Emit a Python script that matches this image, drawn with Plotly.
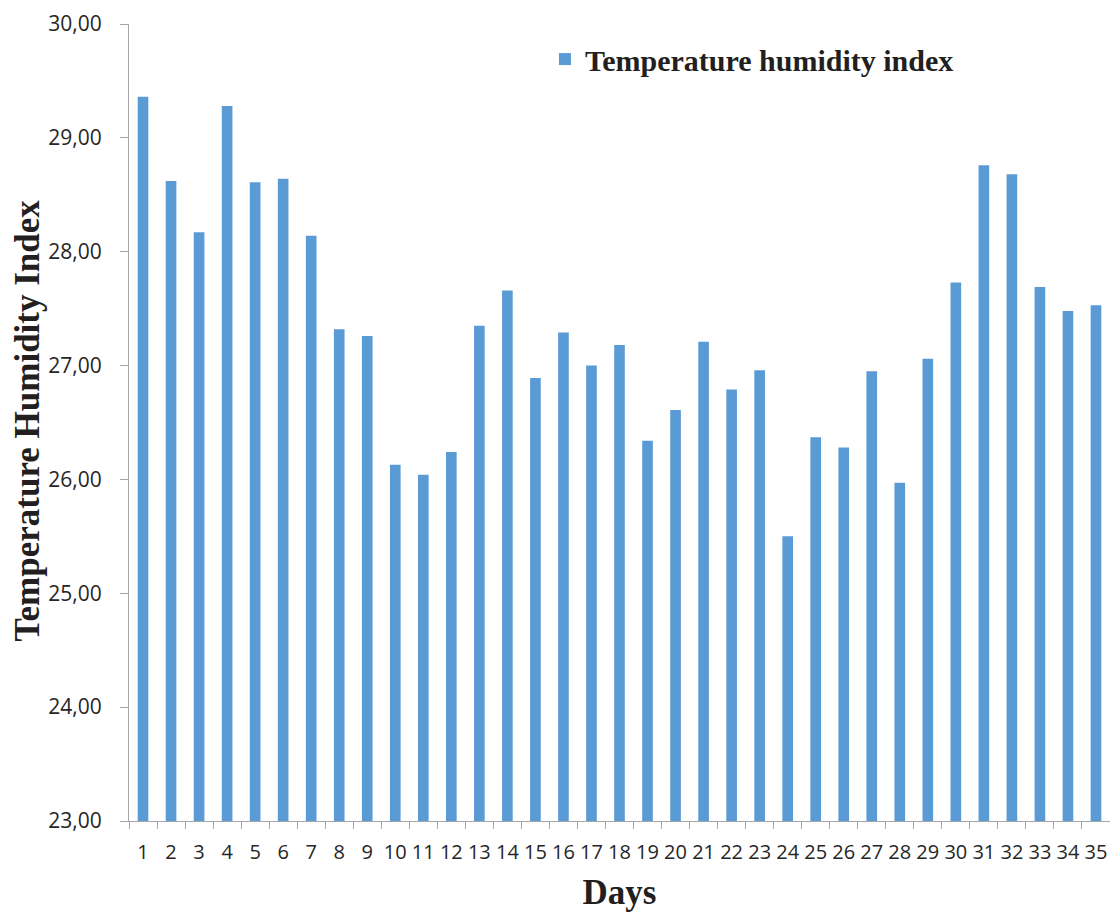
import plotly.graph_objects as go

# Daily temperature humidity index over a 35-day period
days = [str(d) for d in range(1, 36)]
thi_values = [
    29.36, 28.62, 28.17, 29.28, 28.61, 28.64, 28.14, 27.32, 27.26, 26.13,
    26.04, 26.24, 27.35, 27.66, 26.89, 27.29, 27.00, 27.18, 26.34, 26.61,
    27.21, 26.79, 26.96, 25.50, 26.37, 26.28, 26.95, 25.97, 27.06, 27.73,
    28.76, 28.68, 27.69, 27.48, 27.53,
]
y_ticks = [23, 24, 25, 26, 27, 28, 29, 30]

BAR_BLUE = "#5b9bd5"
AXIS_GREY = "#a6a6a6"
TEXT_DARK = "#262626"
TITLE_DARK = "#231f20"
SERIF = "Liberation Serif, Times New Roman, serif"
SANS = "Open Sans, Lato, sans-serif"

fig = go.Figure(
    go.Bar(
        x=days,
        y=thi_values,
        name="Temperature humidity index",
        marker=dict(color=BAR_BLUE, line=dict(width=0)),
    )
)

fig.update_layout(
    width=1110,
    height=912,
    margin=dict(l=129, r=0, t=24, b=91),
    paper_bgcolor="white",
    plot_bgcolor="white",
    separators=", ",
    bargap=0.62,
    showlegend=True,
    legend=dict(
        x=0.424,
        y=0.956,
        xanchor="left",
        yanchor="middle",
        font=dict(family=SERIF, size=30, color=TITLE_DARK, weight="bold"),
        bgcolor="rgba(0,0,0,0)",
    ),
    xaxis=dict(
        type="category",
        showline=True,
        linecolor=AXIS_GREY,
        linewidth=1,
        ticks="outside",
        tickson="boundaries",
        ticklen=7,
        tickcolor=AXIS_GREY,
        tickangle=0,
        tickfont=dict(family=SANS, size=20, color=TEXT_DARK),
        ticklabelstandoff=13,
        showgrid=False,
        title=dict(
            text="Days",
            font=dict(family=SERIF, size=35, color=TITLE_DARK, weight="bold"),
            standoff=18,
        ),
        automargin=False,
    ),
    yaxis=dict(
        range=[23, 30],
        tickvals=y_ticks,
        tickformat=".2f",
        showline=True,
        linecolor=AXIS_GREY,
        linewidth=1,
        ticks="outside",
        ticklen=8,
        tickcolor=AXIS_GREY,
        tickfont=dict(family=SANS, size=21, color=TEXT_DARK),
        ticklabelstandoff=14,
        showgrid=False,
        zeroline=False,
        automargin=False,
    ),
    annotations=[
        dict(
            text="Temperature Humidity Index",
            textangle=-90,
            xref="paper",
            yref="paper",
            x=-0.1035,
            y=0.503,
            xanchor="center",
            yanchor="middle",
            showarrow=False,
            font=dict(family=SERIF, size=35, color=TITLE_DARK, weight="bold"),
        )
    ],
)

fig.write_html("out.html")
